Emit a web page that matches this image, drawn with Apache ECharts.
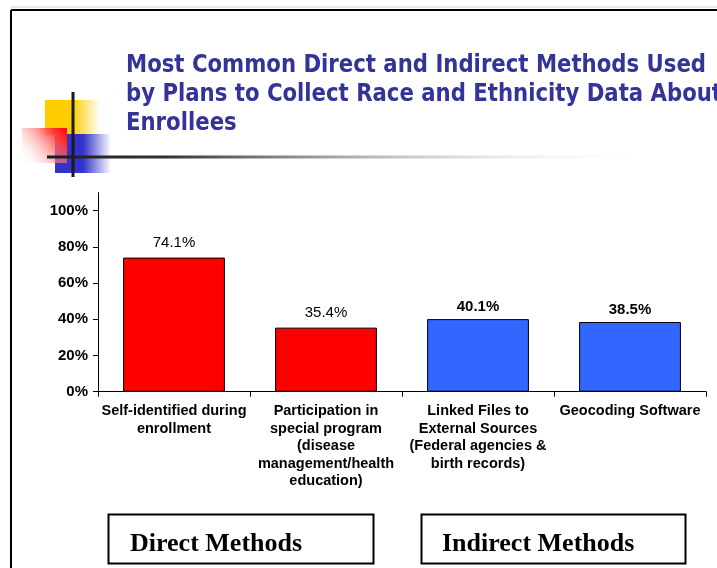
<!DOCTYPE html>
<html>
<head>
<meta charset="utf-8">
<script src="https://cdn.jsdelivr.net/npm/echarts@6/dist/echarts.min.js"></script>
<style>
  html, body { margin: 0; padding: 0; background: #ffffff; }
  #chart { width: 717px; height: 568px; }
</style>
</head>
<body>
<div id="chart"></div>
<script>
// Collection methods (two direct, two indirect) and the share of plans using each
const categories = [
  'Self-identified during\nenrollment',
  'Participation in\nspecial program\n(disease\nmanagement/health\neducation)',
  'Linked Files to\nExternal Sources\n(Federal agencies &\nbirth records)',
  'Geocoding Software'
];
const sharePercent = [74.1, 35.4, 40.1, 38.5];
const methodGroup = ['direct', 'direct', 'indirect', 'indirect'];
const yTickValues = [0, 20, 40, 60, 80, 100];
const titleLines = [
  'Most Common Direct and Indirect Methods Used',
  'by Plans to Collect Race and Ethnicity Data About',
  'Enrollees'
];
const groupLabels = ['Direct Methods', 'Indirect Methods'];

const groupColor = { direct: '#FF0000', indirect: '#3366FF' };
const labelWeight = { direct: 'normal', indirect: 'bold' };
const labelGap = { direct: 7, indirect: 5 };

const chart = echarts.init(document.getElementById('chart'), null, { renderer: 'canvas' });

// Title typeface: bold sans, narrowed to a Tahoma-like width
const titleFont = 'bold 25px "DejaVu Sans", Verdana, sans-serif';
const measureCtx = document.createElement('canvas').getContext('2d');
measureCtx.font = titleFont;
const titleScaleX = 580 / measureCtx.measureText(titleLines[0]).width;

const barData = sharePercent.map((v, i) => ({
  value: v,
  itemStyle: { color: groupColor[methodGroup[i]] },
  label: {
    fontWeight: labelWeight[methodGroup[i]],
    distance: labelGap[methodGroup[i]]
  }
}));

const titleBaselines = [73, 102, 131];

const graphics = [
  // slide frame
  { type: 'line', shape: { x1: 11, y1: 7, x2: 717, y2: 7 }, style: { stroke: '#d0d0d0', lineWidth: 1 }, silent: true },
  { type: 'line', shape: { x1: 11, y1: 10, x2: 717, y2: 10 }, style: { stroke: '#000', lineWidth: 2 }, silent: true },
  { type: 'line', shape: { x1: 11, y1: 10, x2: 11, y2: 568 }, style: { stroke: '#000', lineWidth: 2 }, silent: true },
  // decorative squares
  { type: 'rect', shape: { x: 45, y: 100, width: 55, height: 35 },
    style: { fill: new echarts.graphic.LinearGradient(0, 0, 1, 0, [
      { offset: 0, color: '#FFCC00' }, { offset: 0.5, color: '#FFCC00' }, { offset: 1, color: 'rgba(255,204,0,0)' }]) }, silent: true },
  { type: 'rect', shape: { x: 55, y: 134, width: 56, height: 39 },
    style: { fill: new echarts.graphic.LinearGradient(0, 0, 1, 0, [
      { offset: 0, color: '#3333CC' }, { offset: 0.5, color: '#3333CC' }, { offset: 1, color: 'rgba(51,51,204,0)' }]) }, silent: true },
  { type: 'rect', shape: { x: 22, y: 128, width: 45, height: 35 },
    style: { fill: new echarts.graphic.LinearGradient(1, 0, 0, 1, [
      { offset: 0, color: '#FF0000' }, { offset: 0.2, color: '#FF3333' }, { offset: 1, color: 'rgba(255,255,255,0)' }]) }, silent: true },
  { type: 'line', shape: { x1: 73, y1: 92, x2: 73, y2: 177 }, style: { stroke: '#1a1a1a', lineWidth: 3 }, silent: true },
  { type: 'line', shape: { x1: 47, y1: 157, x2: 660, y2: 157 },
    style: { lineWidth: 3, stroke: new echarts.graphic.LinearGradient(0, 0, 1, 0, [
      { offset: 0, color: '#1a1a1a' }, { offset: 0.2, color: '#333333' }, { offset: 1, color: 'rgba(255,255,255,0)' }], false) }, silent: true },
  // title
  {
    type: 'group', x: 126, y: 0, scaleX: titleScaleX, silent: true,
    children: titleLines.map((t, i) => ({
      type: 'text', x: 0, y: titleBaselines[i] - 8,
      style: { text: t, font: titleFont, fill: '#333399', verticalAlign: 'middle', align: 'left' }
    }))
  },
  // method group boxes
  { type: 'rect', shape: { x: 108.5, y: 514.5, width: 265, height: 49 }, style: { fill: 'none', stroke: '#000', lineWidth: 2 }, silent: true },
  { type: 'rect', shape: { x: 421.5, y: 514.5, width: 264, height: 49 }, style: { fill: 'none', stroke: '#000', lineWidth: 2 }, silent: true },
  { type: 'text', x: 130, y: 544, style: { text: groupLabels[0], font: 'bold 26px "Liberation Serif", "Times New Roman", serif', fill: '#000', verticalAlign: 'middle' }, silent: true },
  { type: 'text', x: 442, y: 544, style: { text: groupLabels[1], font: 'bold 26px "Liberation Serif", "Times New Roman", serif', fill: '#000', verticalAlign: 'middle' }, silent: true }
];

chart.setOption({
  animation: false,
  backgroundColor: '#ffffff',
  grid: { left: 98, right: 11, top: 192.6, bottom: 176.3, containLabel: false },
  xAxis: {
    type: 'category',
    data: categories,
    axisLine: { show: true, lineStyle: { color: '#000', width: 1 } },
    axisTick: { show: true, alignWithLabel: false, length: 5, lineStyle: { color: '#000' } },
    axisLabel: {
      interval: 0,
      margin: 11,
      color: '#000',
      fontFamily: '"Liberation Sans", Arial, sans-serif',
      fontWeight: 'bold',
      fontSize: 14.5,
      lineHeight: 17.5,
      align: 'center'
    }
  },
  yAxis: {
    type: 'value',
    min: 0,
    max: 110,
    splitLine: { show: false },
    axisLine: { show: true, lineStyle: { color: '#000', width: 1 } },
    axisTick: { show: true, length: 5, lineStyle: { color: '#000' }, customValues: yTickValues },
    axisLabel: {
      customValues: yTickValues,
      formatter: '{value}%',
      margin: 10,
      color: '#000',
      fontFamily: '"Liberation Sans", Arial, sans-serif',
      fontWeight: 'bold',
      fontSize: 15
    }
  },
  series: [{
    type: 'bar',
    data: barData,
    barWidth: '67%',
    itemStyle: { borderColor: '#000', borderWidth: 1 },
    label: {
      show: true,
      position: 'top',
      formatter: p => p.value.toFixed(1) + '%',
      color: '#000',
      fontFamily: '"Liberation Sans", Arial, sans-serif',
      fontSize: 15
    }
  }],
  graphic: graphics
});
</script>
</body>
</html>
